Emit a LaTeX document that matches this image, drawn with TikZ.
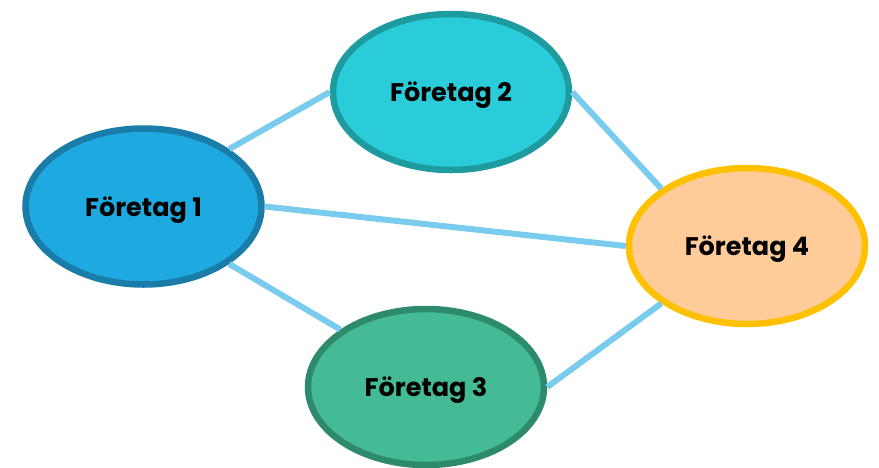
\documentclass[tikz,border=0pt]{standalone}
\usepackage{fontspec}
\setmainfont{Poppins}
\usetikzlibrary{shapes.geometric}
\definecolor{linkblue}{HTML}{7ACCEE}
\definecolor{fillA}{HTML}{1FA9E1}
\definecolor{edgeA}{HTML}{1A7CA8}
\definecolor{fillB}{HTML}{29CCD8}
\definecolor{edgeB}{HTML}{1E9B9E}
\definecolor{fillC}{HTML}{44BA97}
\definecolor{edgeC}{HTML}{2E8A6C}
\definecolor{fillD}{HTML}{FFCC99}
\definecolor{edgeD}{HTML}{FFC000}

\begin{document}
\begin{tikzpicture}[x=1pt,y=-1pt]
    \tikzstyle{firm}=[ellipse,line width=6.5pt,minimum width=236pt,minimum height=156pt,inner sep=0pt,text depth=0pt,font=\fontsize{25.5}{28}\selectfont\bfseries]
    \tikzstyle{link}=[draw=linkblue,line width=6pt]

    \useasboundingbox (0,0) rectangle (879,467);

    % the four companies
    \node[firm, fill=fillA, draw=edgeA] (F1) at (143.5,206.5) {Företag 1};
    \node[firm, fill=fillB, draw=edgeB] (F2) at (451,92) {Företag 2};
    \node[firm, fill=fillC, draw=edgeC] (F3) at (426,387) {Företag 3};
    \node[firm, fill=fillD, draw=edgeD] (F4) at (747,246) {Företag 4};

    % links between them
    \foreach \source/\dest in {F1.north east/F2.west, F1.east/F4.west, F1.south east/F3.north west, F2.east/F4.north west, F3.east/F4.south west}
        \draw[link] (\source) -- (\dest);
\end{tikzpicture}
\end{document}
